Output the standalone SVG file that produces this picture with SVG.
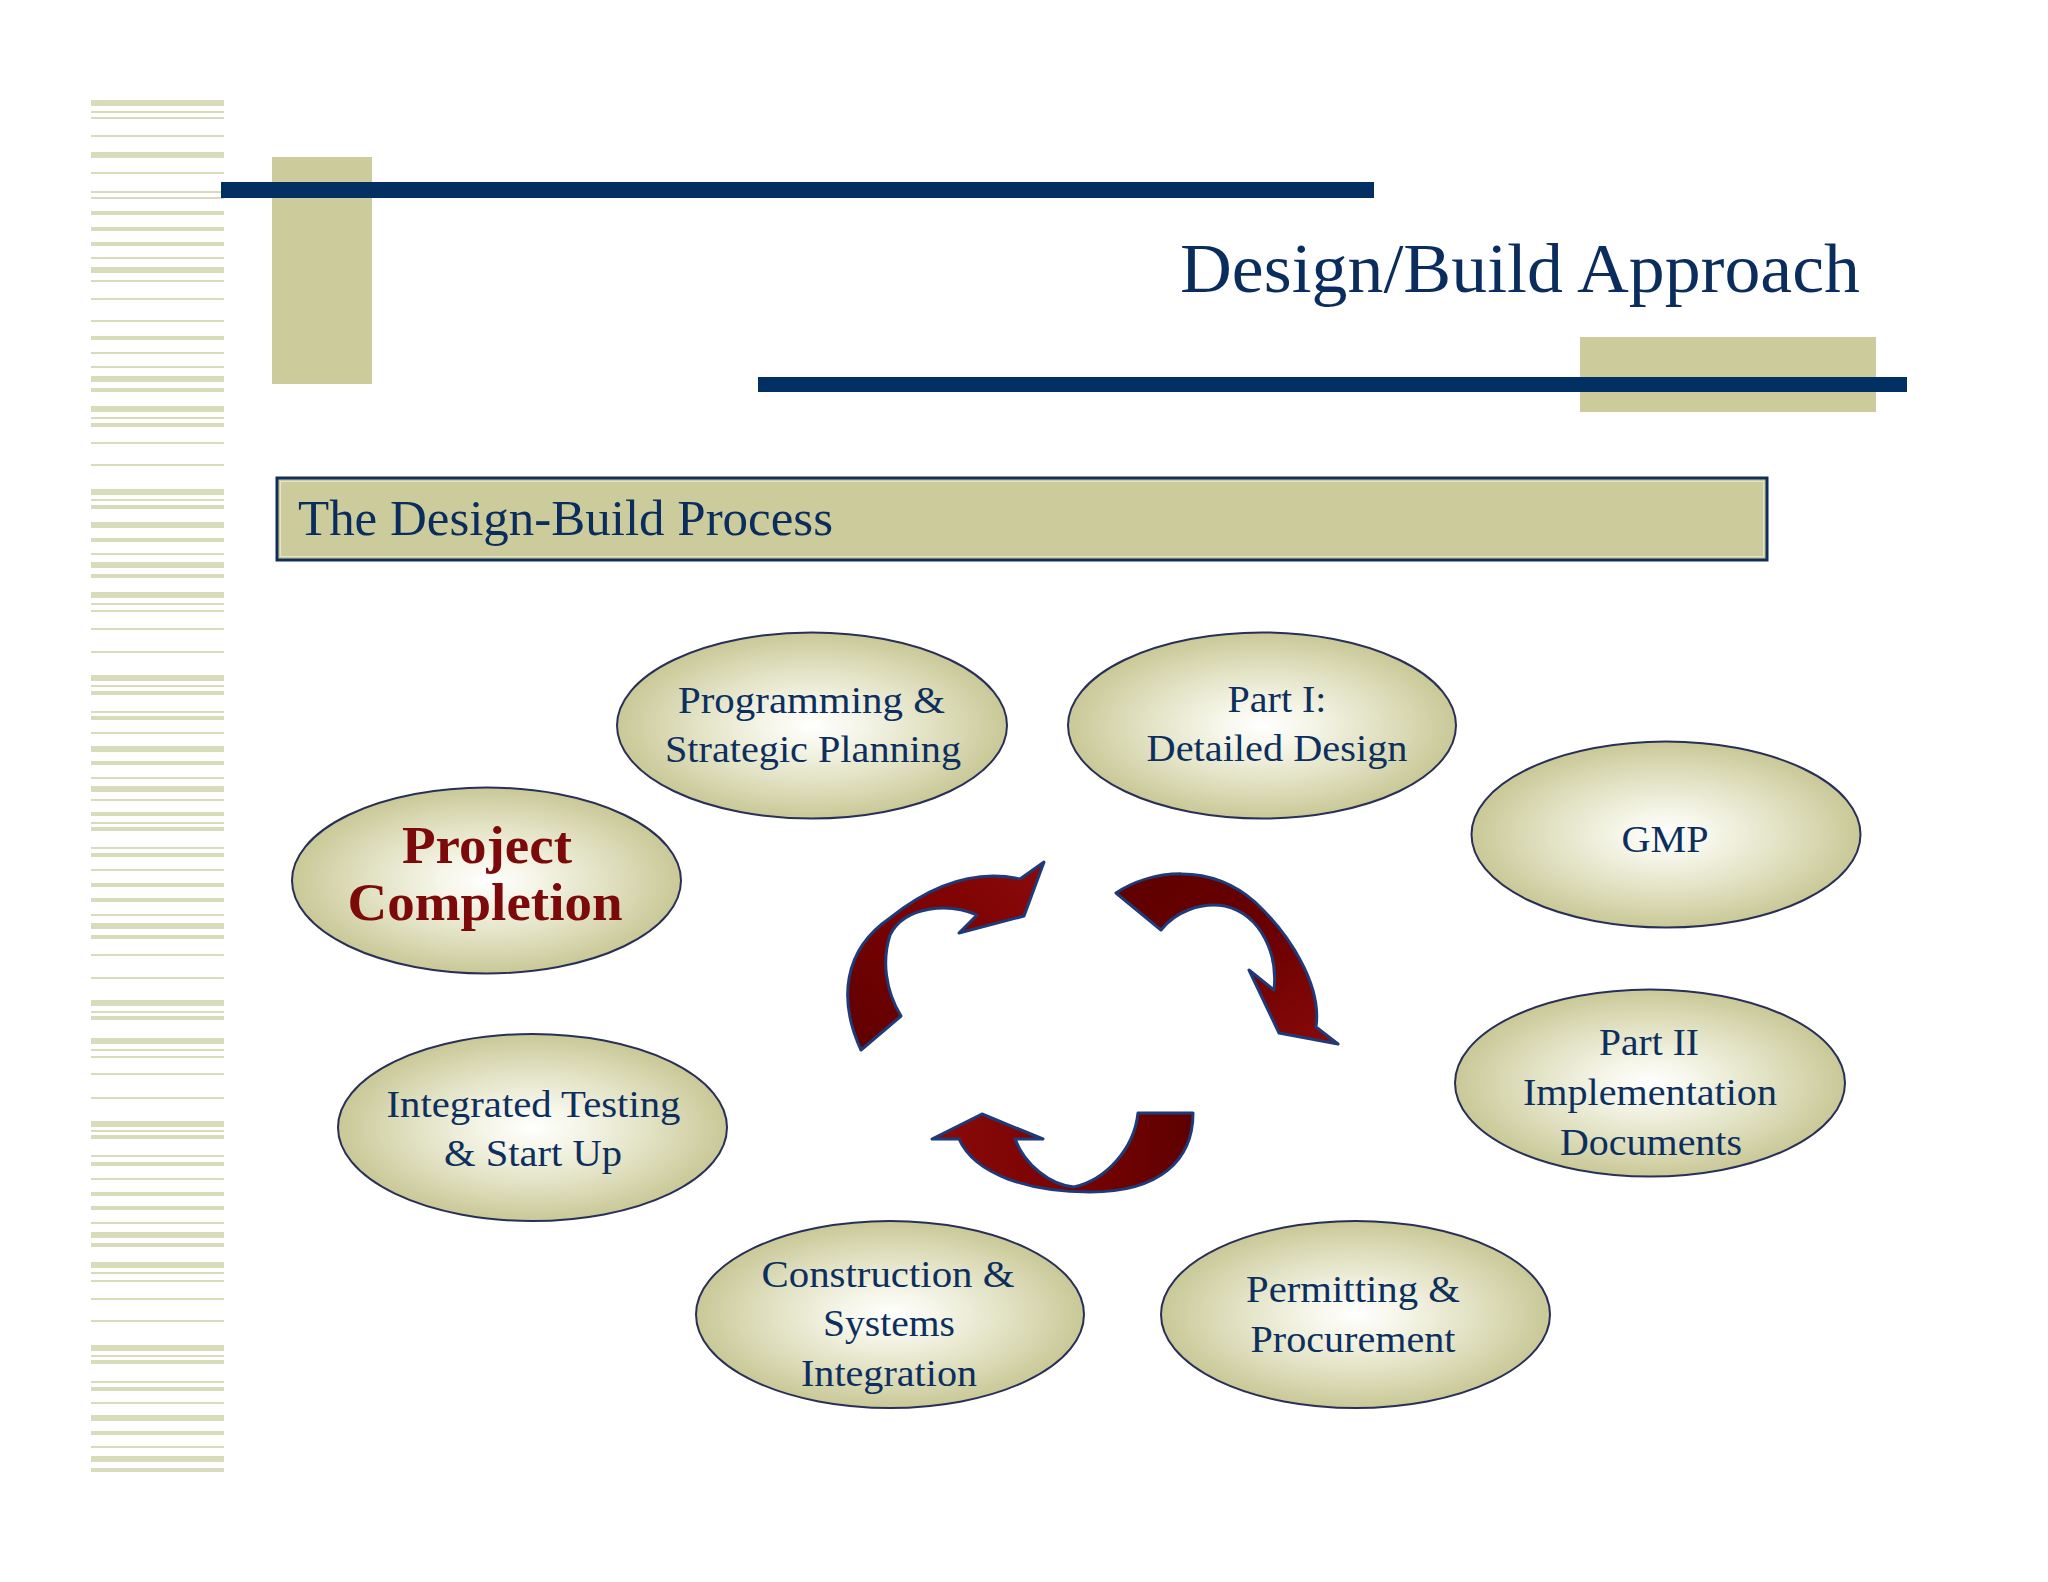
<svg xmlns="http://www.w3.org/2000/svg" width="2048" height="1582" viewBox="0 0 2048 1582">
<defs>
<style>
.st{fill:#d9dcbb}
.lbl{font-family:"Liberation Serif","Times New Roman",serif;fill:#0d2f5e;font-size:38px;text-anchor:middle}
.bold{font-weight:bold;fill:#7d0a0a;font-size:52px}
.node ellipse{fill:url(#eg);stroke:#283057;stroke-width:2}
.arr{stroke:#1e3a78;stroke-width:3;stroke-linejoin:round}
</style>
<radialGradient id="eg" cx="50%" cy="50%" r="50%">
<stop offset="0" stop-color="#ffffff"/>
<stop offset="0.25" stop-color="#f5f5e8"/>
<stop offset="0.65" stop-color="#dfdfbf"/>
<stop offset="1" stop-color="#c9c897"/>
</radialGradient>
<linearGradient id="ga1" x1="0" y1="1" x2="1" y2="0">
<stop offset="0" stop-color="#5e0000"/><stop offset="0.6" stop-color="#7f0303"/><stop offset="1" stop-color="#8a0a0a"/>
</linearGradient>
<linearGradient id="ga2" x1="0" y1="0" x2="1" y2="1">
<stop offset="0" stop-color="#5e0000"/><stop offset="0.5" stop-color="#6a0000"/><stop offset="1" stop-color="#8a0a0a"/>
</linearGradient>
<linearGradient id="ga3" x1="1" y1="0" x2="0" y2="0">
<stop offset="0" stop-color="#5e0000"/><stop offset="0.5" stop-color="#7a0303"/><stop offset="1" stop-color="#8a0a0a"/>
</linearGradient>
</defs>
<rect width="2048" height="1582" fill="#ffffff"/>

<g id="stripes">
<rect class="st" x="91" y="100" width="133" height="6"/>
<rect class="st" x="91" y="111" width="133" height="2"/>
<rect class="st" x="91" y="117" width="133" height="2"/>
<rect class="st" x="91" y="135" width="133" height="2"/>
<rect class="st" x="91" y="152" width="133" height="6"/>
<rect class="st" x="91" y="172" width="133" height="2"/>
<rect class="st" x="91" y="191" width="133" height="2"/>
<rect class="st" x="91" y="197" width="133" height="2"/>
<rect class="st" x="91" y="211" width="133" height="4"/>
<rect class="st" x="91" y="227" width="133" height="4"/>
<rect class="st" x="91" y="242" width="133" height="4"/>
<rect class="st" x="91" y="257" width="133" height="2"/>
<rect class="st" x="91" y="267" width="133" height="6"/>
<rect class="st" x="91" y="280" width="133" height="2"/>
<rect class="st" x="91" y="298" width="133" height="2"/>
<rect class="st" x="91" y="320" width="133" height="2"/>
<rect class="st" x="91" y="336" width="133" height="4"/>
<rect class="st" x="91" y="352" width="133" height="2"/>
<rect class="st" x="91" y="366" width="133" height="2"/>
<rect class="st" x="91" y="376" width="133" height="6"/>
<rect class="st" x="91" y="388" width="133" height="4"/>
<rect class="st" x="91" y="406" width="133" height="6"/>
<rect class="st" x="91" y="417" width="133" height="2"/>
<rect class="st" x="91" y="423" width="133" height="4"/>
<rect class="st" x="91" y="442" width="133" height="2"/>
<rect class="st" x="91" y="464" width="133" height="2"/>
<rect class="st" x="91" y="489" width="133" height="6"/>
<rect class="st" x="91" y="499" width="133" height="2"/>
<rect class="st" x="91" y="505" width="133" height="4"/>
<rect class="st" x="91" y="522" width="133" height="6"/>
<rect class="st" x="91" y="538" width="133" height="4"/>
<rect class="st" x="91" y="553" width="133" height="2"/>
<rect class="st" x="91" y="562" width="133" height="6"/>
<rect class="st" x="91" y="574" width="133" height="4"/>
<rect class="st" x="91" y="592" width="133" height="6"/>
<rect class="st" x="91" y="603" width="133" height="2"/>
<rect class="st" x="91" y="610" width="133" height="2"/>
<rect class="st" x="91" y="628" width="133" height="2"/>
<rect class="st" x="91" y="651" width="133" height="2"/>
<rect class="st" x="91" y="675" width="133" height="6"/>
<rect class="st" x="91" y="685" width="133" height="2"/>
<rect class="st" x="91" y="691" width="133" height="4"/>
<rect class="st" x="91" y="711" width="133" height="2"/>
<rect class="st" x="91" y="716" width="133" height="4"/>
<rect class="st" x="91" y="732" width="133" height="2"/>
<rect class="st" x="91" y="746" width="133" height="6"/>
<rect class="st" x="91" y="761" width="133" height="4"/>
<rect class="st" x="91" y="777" width="133" height="2"/>
<rect class="st" x="91" y="786" width="133" height="6"/>
<rect class="st" x="91" y="799" width="133" height="2"/>
<rect class="st" x="91" y="812" width="133" height="4"/>
<rect class="st" x="91" y="822" width="133" height="2"/>
<rect class="st" x="91" y="827" width="133" height="4"/>
<rect class="st" x="91" y="847" width="133" height="2"/>
<rect class="st" x="91" y="853" width="133" height="4"/>
<rect class="st" x="91" y="869" width="133" height="2"/>
<rect class="st" x="91" y="883" width="133" height="4"/>
<rect class="st" x="91" y="898" width="133" height="4"/>
<rect class="st" x="91" y="914" width="133" height="2"/>
<rect class="st" x="91" y="923" width="133" height="6"/>
<rect class="st" x="91" y="935" width="133" height="4"/>
<rect class="st" x="91" y="954" width="133" height="2"/>
<rect class="st" x="91" y="977" width="133" height="2"/>
<rect class="st" x="91" y="1000" width="133" height="6"/>
<rect class="st" x="91" y="1011" width="133" height="2"/>
<rect class="st" x="91" y="1016" width="133" height="4"/>
<rect class="st" x="91" y="1038" width="133" height="6"/>
<rect class="st" x="91" y="1049" width="133" height="2"/>
<rect class="st" x="91" y="1056" width="133" height="2"/>
<rect class="st" x="91" y="1073" width="133" height="2"/>
<rect class="st" x="91" y="1097" width="133" height="2"/>
<rect class="st" x="91" y="1121" width="133" height="6"/>
<rect class="st" x="91" y="1130" width="133" height="2"/>
<rect class="st" x="91" y="1135" width="133" height="4"/>
<rect class="st" x="91" y="1155" width="133" height="2"/>
<rect class="st" x="91" y="1162" width="133" height="4"/>
<rect class="st" x="91" y="1178" width="133" height="2"/>
<rect class="st" x="91" y="1192" width="133" height="4"/>
<rect class="st" x="91" y="1206" width="133" height="4"/>
<rect class="st" x="91" y="1222" width="133" height="2"/>
<rect class="st" x="91" y="1232" width="133" height="6"/>
<rect class="st" x="91" y="1243" width="133" height="4"/>
<rect class="st" x="91" y="1262" width="133" height="6"/>
<rect class="st" x="91" y="1272" width="133" height="2"/>
<rect class="st" x="91" y="1280" width="133" height="2"/>
<rect class="st" x="91" y="1298" width="133" height="2"/>
<rect class="st" x="91" y="1320" width="133" height="2"/>
<rect class="st" x="91" y="1345" width="133" height="6"/>
<rect class="st" x="91" y="1355" width="133" height="2"/>
<rect class="st" x="91" y="1360" width="133" height="4"/>
<rect class="st" x="91" y="1381" width="133" height="2"/>
<rect class="st" x="91" y="1387" width="133" height="4"/>
<rect class="st" x="91" y="1402" width="133" height="2"/>
<rect class="st" x="91" y="1415" width="133" height="6"/>
<rect class="st" x="91" y="1431" width="133" height="4"/>
<rect class="st" x="91" y="1446" width="133" height="2"/>
<rect class="st" x="91" y="1456" width="133" height="6"/>
<rect class="st" x="91" y="1468" width="133" height="4"/>
</g>

<g id="header">
<rect x="272" y="157" width="100" height="227" fill="#cccb9b"/>
<rect x="221" y="182" width="1153" height="16" fill="#033063"/>
<rect x="1580" y="337" width="296" height="75" fill="#cccb9b"/>
<rect x="758" y="377" width="1149" height="15" fill="#033063"/>
<text x="1860" y="292" text-anchor="end" font-family="Liberation Serif, Times New Roman, serif" font-size="70" fill="#0b2d5e" textLength="680" lengthAdjust="spacingAndGlyphs">Design/Build Approach</text>
</g>

<g id="section-box">
<rect x="277" y="478" width="1490" height="82" fill="#cccb9b" stroke="#0f2f5a" stroke-width="3"/>
<rect x="280.5" y="481.5" width="1483" height="75" fill="none" stroke="#e4e4c8" stroke-width="1"/>
<text x="298" y="535" font-family="Liberation Serif, Times New Roman, serif" font-size="50" fill="#0b2d5e" textLength="535" lengthAdjust="spacingAndGlyphs">The Design-Build Process</text>
</g>

<g id="connectors">
<path class="arr" fill="url(#ga1)" d="M861,1050 C838,1000 843,950 890,918 C925,890 970,868 1020,879 L1044,862 L1024,916 L959,933 L977,915 C950,903 905,905 890,935 C882,960 885,990 901,1016 Z"/>
<path class="arr" fill="url(#ga2)" d="M1116,893 C1150,870 1210,862 1255,902 C1290,935 1322,985 1316,1027 L1338,1044 L1279,1033 L1249,970 L1274,990 C1278,955 1262,915 1225,906 C1200,902 1175,912 1161,930 Z"/>
<path class="arr" fill="url(#ga3)" d="M1193,1113 C1193,1160 1160,1192 1090,1192 C1030,1192 975,1175 959,1139 L932,1139 L982,1114 L1043,1139 L1015,1139 C1025,1165 1050,1185 1074,1187 C1105,1180 1134,1150 1138,1113 Z"/>
</g>

<g id="node-programming" class="node">
<ellipse cx="812" cy="725.5" rx="195" ry="93"/>
<text class="lbl" x="811.5" y="713" textLength="267" lengthAdjust="spacingAndGlyphs">Programming &amp;</text>
<text class="lbl" x="813" y="762" textLength="296" lengthAdjust="spacingAndGlyphs">Strategic Planning</text>
</g>

<g id="node-part1" class="node">
<ellipse cx="1262" cy="725.5" rx="194" ry="93"/>
<text class="lbl" x="1277" y="712" textLength="99" lengthAdjust="spacingAndGlyphs">Part I:</text>
<text class="lbl" x="1277" y="761" textLength="261" lengthAdjust="spacingAndGlyphs">Detailed Design</text>
</g>

<g id="node-gmp" class="node">
<ellipse cx="1666" cy="834.5" rx="194.5" ry="93"/>
<text class="lbl" x="1665" y="852" textLength="87" lengthAdjust="spacingAndGlyphs">GMP</text>
</g>

<g id="node-part2" class="node">
<ellipse cx="1650" cy="1083" rx="195" ry="93.5"/>
<text class="lbl" x="1649" y="1055" textLength="100" lengthAdjust="spacingAndGlyphs">Part II</text>
<text class="lbl" x="1650" y="1105" textLength="254" lengthAdjust="spacingAndGlyphs">Implementation</text>
<text class="lbl" x="1651" y="1155" textLength="182" lengthAdjust="spacingAndGlyphs">Documents</text>
</g>

<g id="node-permitting" class="node">
<ellipse cx="1355.5" cy="1314.5" rx="194.5" ry="93.5"/>
<text class="lbl" x="1353" y="1302" textLength="214" lengthAdjust="spacingAndGlyphs">Permitting &amp;</text>
<text class="lbl" x="1353" y="1352" textLength="205" lengthAdjust="spacingAndGlyphs">Procurement</text>
</g>

<g id="node-construction" class="node">
<ellipse cx="890" cy="1314.5" rx="194" ry="93.5"/>
<text class="lbl" x="888" y="1287" textLength="253" lengthAdjust="spacingAndGlyphs">Construction &amp;</text>
<text class="lbl" x="889" y="1336" textLength="132" lengthAdjust="spacingAndGlyphs">Systems</text>
<text class="lbl" x="889" y="1386" textLength="176" lengthAdjust="spacingAndGlyphs">Integration</text>
</g>

<g id="node-testing" class="node">
<ellipse cx="532.5" cy="1127.5" rx="194.5" ry="93.5"/>
<text class="lbl" x="533.5" y="1117" textLength="294" lengthAdjust="spacingAndGlyphs">Integrated Testing</text>
<text class="lbl" x="533" y="1166" textLength="178" lengthAdjust="spacingAndGlyphs">&amp; Start Up</text>
</g>

<g id="node-completion" class="node">
<ellipse cx="486.5" cy="880.5" rx="194.5" ry="93"/>
<text class="lbl bold" x="487" y="863" textLength="170" lengthAdjust="spacingAndGlyphs">Project</text>
<text class="lbl bold" x="485" y="920" textLength="275" lengthAdjust="spacingAndGlyphs">Completion</text>
</g>
</svg>
